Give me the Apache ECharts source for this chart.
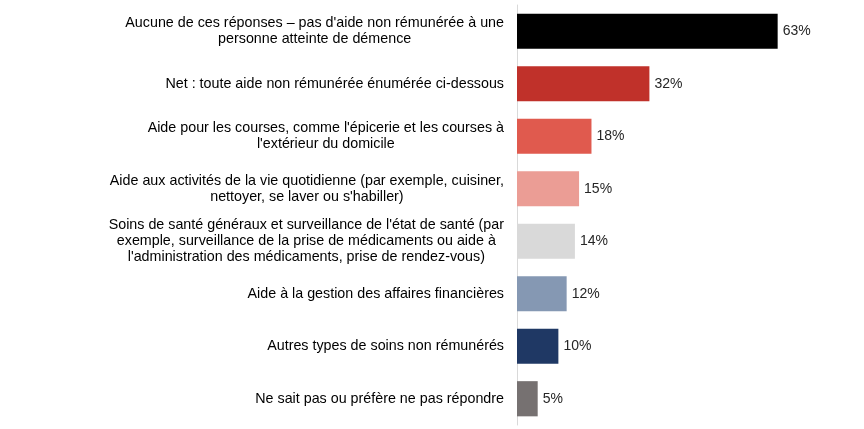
<!DOCTYPE html>
<html>
<head>
<meta charset="utf-8">
<script src="https://cdn.jsdelivr.net/npm/echarts@6/dist/echarts.min.js"></script>
<style>html,body{margin:0;padding:0;background:#fff}#c{width:864px;height:429px}</style>
</head>
<body>
<div id="c"></div>
<script>
const categories = [
  "Aucune de ces réponses – pas d'aide non rémunérée à une\npersonne atteinte de démence",
  "Net : toute aide non rémunérée énumérée ci-dessous",
  "Aide pour les courses, comme l'épicerie et les courses à\nl'extérieur du domicile",
  "Aide aux activités de la vie quotidienne (par exemple, cuisiner,\nnettoyer, se laver ou s'habiller)",
  "Soins de santé généraux et surveillance de l'état de santé (par\nexemple, surveillance de la prise de médicaments ou aide à\nl'administration des médicaments, prise de rendez-vous)",
  "Aide à la gestion des affaires financières",
  "Autres types de soins non rémunérés",
  "Ne sait pas ou préfère ne pas répondre"
];
const values = [63, 32, 18, 15, 14, 12, 10, 5];
const colors = ["#000000", "#c0312a", "#e05a4e", "#eb9d95", "#d9d9d9", "#8598b3", "#1f3864", "#767171"];

const chart = echarts.init(document.getElementById('c'));
chart.setOption({
  animation: false,
  grid: { left: 517, right: 16, top: 5, bottom: 4, containLabel: false },
  xAxis: { type: 'value', min: 0, max: 80, show: false },
  yAxis: {
    type: 'category',
    inverse: true,
    data: categories,
    axisTick: { show: false },
    axisLine: { show: true, lineStyle: { color: '#d9d9d9', width: 1 } },
    axisLabel: {
      margin: 13,
      formatter: v => '{c|' + v + '}',
      rich: { c: { align: 'center', fontFamily: 'Liberation Sans, Arial, sans-serif', fontSize: 14.3, lineHeight: 16, color: '#000' } }
    }
  },
  series: [{
    type: 'bar',
    barCategoryGap: '33%',
    data: values.map((v, i) => ({ value: v, itemStyle: { color: colors[i] } })),
    label: {
      show: true, position: 'right', distance: 5,
      formatter: p => p.value + '%',
      fontFamily: 'Liberation Sans, Arial, sans-serif', fontSize: 14, color: '#262626'
    }
  }]
});
</script>
</body>
</html>
